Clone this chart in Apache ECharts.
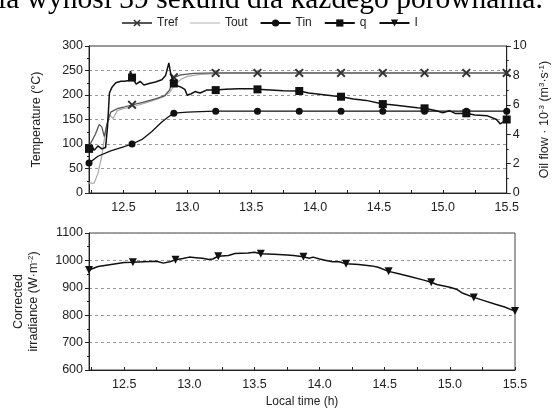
<!DOCTYPE html>
<html><head><meta charset="utf-8">
<script src="https://cdn.jsdelivr.net/npm/echarts@6/dist/echarts.min.js"></script>
<style>html,body{margin:0;padding:0;background:#fff}#c{width:559px;height:412px}</style>
</head><body><div id="c"></div>
<script>
const headerText = 'ia wynosi 39 sekund dla każdego porównania.';
const xTickLabels = [12.5, 13.0, 13.5, 14.0, 14.5, 15.0, 15.5];
const xMinorTicks = [12.25, 12.5, 12.75, 13.0, 13.25, 13.5, 13.75, 14.0, 14.25, 14.5, 14.75, 15.0, 15.25, 15.5];
const markerTimes = [12.23, 12.567, 12.894, 13.222, 13.549, 13.876, 14.203, 14.53, 14.857, 15.184, 15.5];

const trefData = [[12.24,100],[12.28,120],[12.31,140],[12.33,135],[12.35,115],[12.37,140],[12.40,165],[12.45,172],[12.5,175],[12.567,180],[12.65,185],[12.75,192],[12.82,198],[12.86,210],[12.894,236],[12.95,241],[13.05,244],[13.222,245],[13.549,245],[13.876,245],[14.203,245],[14.53,245],[14.857,245],[15.184,245],[15.5,245]];
const toutData = [[12.23,20],[12.27,20],[12.3,40],[12.33,75],[12.35,110],[12.37,140],[12.39,160],[12.42,152],[12.45,168],[12.5,172],[12.6,178],[12.7,186],[12.8,195],[12.86,205],[12.9,220],[12.95,232],[13.0,238],[13.1,242],[13.25,244],[15.5,244]];
const tinData = [[12.23,61],[12.3,75],[12.4,86],[12.5,94],[12.567,100],[12.65,110],[12.72,125],[12.8,145],[12.85,155],[12.894,163],[13.0,165],[13.1,166],[13.222,167],[13.549,167],[13.876,167],[14.203,167],[14.53,167],[14.857,167],[15.184,167],[15.5,167]];
const qData = [[12.23,3.0],[12.25,3.3],[12.27,2.9],[12.3,3.2],[12.33,3.0],[12.36,3.1],[12.375,4.5],[12.39,6.8],[12.41,7.2],[12.44,7.5],[12.48,7.6],[12.51,7.6],[12.54,7.65],[12.555,8.3],[12.567,7.85],[12.58,7.8],[12.6,7.4],[12.63,7.6],[12.66,7.35],[12.7,7.45],[12.75,7.55],[12.8,7.7],[12.83,8.0],[12.855,8.85],[12.87,8.1],[12.894,7.45],[12.92,7.3],[12.95,7.2],[12.98,7.05],[13.0,6.65],[13.03,6.75],[13.06,6.9],[13.1,6.8],[13.15,7.0],[13.222,7.0],[13.3,7.05],[13.4,7.1],[13.5,7.1],[13.549,7.05],[13.65,7.0],[13.75,6.95],[13.876,6.94],[13.95,6.8],[14.05,6.7],[14.15,6.6],[14.203,6.55],[14.3,6.4],[14.4,6.3],[14.53,6.05],[14.6,6.0],[14.7,5.9],[14.8,5.8],[14.857,5.76],[14.95,5.6],[15.0,5.45],[15.05,5.6],[15.1,5.4],[15.184,5.42],[15.25,5.3],[15.35,5.25],[15.42,5.0],[15.45,4.7],[15.5,5.0]];
const irrData = [[12.23,965],[12.3,978],[12.4,985],[12.5,992],[12.567,993],[12.65,995],[12.75,997],[12.8,990],[12.85,995],[12.894,1002],[12.95,1007],[13.0,1012],[13.05,1010],[13.1,1008],[13.15,1003],[13.18,1005],[13.222,1015],[13.3,1018],[13.35,1025],[13.45,1027],[13.5,1030],[13.549,1024],[13.65,1022],[13.75,1020],[13.8,1018],[13.876,1013],[13.92,1008],[13.95,1012],[14.0,1005],[14.05,1000],[14.1,995],[14.15,995],[14.203,988],[14.3,985],[14.4,980],[14.45,975],[14.53,960],[14.6,952],[14.7,940],[14.8,928],[14.857,920],[14.9,912],[15.0,902],[15.05,895],[15.1,880],[15.184,865],[15.25,855],[15.35,840],[15.42,830],[15.5,815]];

const isMarker = t => markerTimes.some(m => Math.abs(m - t) < 0.004);
const withMarkers = d => d.map(p => isMarker(p[0]) ? {value: p} : {value: p, symbol: 'none'});

const crossPath = 'path://M0,1.5 L1.5,0 L5,3.5 L8.5,0 L10,1.5 L6.5,5 L10,8.5 L8.5,10 L5,6.5 L1.5,10 L0,8.5 L3.5,5 Z';
const font = 'Liberation Sans, Arial, sans-serif';
const txt = '#222';

const xAxisBase = (gi, showName) => ({
  type: 'value', gridIndex: gi, min: 12.23, max: 15.5,
  axisLine: {lineStyle: {color: '#222', width: 1}},
  axisTick: {show: true, inside: true, length: 3, customValues: xMinorTicks, lineStyle: {color: '#222'}},
  axisLabel: {customValues: xTickLabels, formatter: v => v.toFixed(1), color: txt, fontFamily: font, fontSize: 12.5, margin: 8},
  splitLine: {show: false},
  name: showName ? 'Local time (h)' : '', nameLocation: 'middle', nameGap: 26,
  nameTextStyle: {color: txt, fontFamily: font, fontSize: 12}
});
const yLabel = {color: txt, fontFamily: font, fontSize: 12.5, margin: 6, formatter: v => String(v)};

const option = {
  animation: false,
  backgroundColor: '#fff',
  graphic: [{
    type: 'text', left: -2, top: -15,
    style: {text: headerText, font: '29.5px "Liberation Serif", "Times New Roman", serif', fill: '#000'}
  }],
  legend: {
    top: 12, left: 116, itemWidth: 30, itemHeight: 9, itemGap: 12,
    textStyle: {color: txt, fontFamily: font, fontSize: 12},
    data: ['Tref', {name: 'Tout', icon: 'path://M0,0 L40,0 L40,1.2 L0,1.2 Z', itemStyle: {color: '#aaa'}}, 'Tin', 'q', 'I']
  },
  grid: [
    {left: 89, right: 44, top: 46, height: 147, show: true, borderColor: '#333', borderWidth: 1},
    {left: 89, right: 44, top: 233, height: 137, show: true, borderColor: '#444', borderWidth: 1}
  ],
  xAxis: [xAxisBase(0, false), xAxisBase(1, true)],
  yAxis: [
    {type: 'value', gridIndex: 0, min: 0, max: 300, interval: 50,
     axisLine: {show: true, lineStyle: {color: '#222'}},
     axisTick: {show: true, length: 4, lineStyle: {color: '#222'}},
     minorTick: {show: true, splitNumber: 2, length: 2, lineStyle: {color: '#222'}},
     axisLabel: yLabel,
     splitLine: {show: true, lineStyle: {type: [3, 3], color: '#999'}},
     name: 'Temperature (°C)', nameLocation: 'middle', nameGap: 46, nameRotate: 90,
     nameTextStyle: {color: txt, fontFamily: font, fontSize: 12.5}},
    {type: 'value', gridIndex: 0, min: 0, max: 10, interval: 2, position: 'right',
     axisLine: {show: true, lineStyle: {color: '#222'}},
     axisTick: {show: true, length: 4, lineStyle: {color: '#222'}},
     minorTick: {show: true, splitNumber: 2, length: 2, lineStyle: {color: '#222'}},
     axisLabel: yLabel,
     splitLine: {show: false},
     name: '{n|Oil flow · 10}{s|-3}{n| (m}{s|3}{n|·s}{s|-1}{n|)}', nameLocation: 'middle', nameGap: 23, nameRotate: 90,
     nameTextStyle: {color: txt, fontFamily: font, fontSize: 12,
       rich: {n: {fontFamily: font, fontSize: 12.5, color: txt}, s: {fontFamily: font, fontSize: 8, color: txt, padding: [0, 0, 6, 0]}}}},
    {type: 'value', gridIndex: 1, min: 600, max: 1100, interval: 100,
     axisLine: {show: true, lineStyle: {color: '#222'}},
     axisTick: {show: true, length: 4, lineStyle: {color: '#222'}},
     minorTick: {show: true, splitNumber: 2, length: 2, lineStyle: {color: '#222'}},
     axisLabel: yLabel,
     splitLine: {show: true, lineStyle: {type: [3, 3], color: '#999'}},
     name: '{n|Corrected}\n{n|irradiance (W·m}{s|-2}{n|)}', nameLocation: 'middle', nameGap: 48, nameRotate: 90,
     nameTextStyle: {color: txt, fontFamily: font, fontSize: 12.5, lineHeight: 15, align: 'center',
       rich: {n: {fontFamily: font, fontSize: 12.5, color: txt, lineHeight: 15}, s: {fontFamily: font, fontSize: 8, color: txt, padding: [0, 0, 6, 0]}}}}
  ],
  series: [
    {name: 'Tref', type: 'line', xAxisIndex: 0, yAxisIndex: 0, data: withMarkers(trefData),
     symbol: crossPath, symbolSize: 9, showSymbol: true,
     lineStyle: {color: '#555', width: 1.3}, itemStyle: {color: '#333'}, z: 3},
    {name: 'Tout', type: 'line', xAxisIndex: 0, yAxisIndex: 0, data: toutData,
     symbol: 'none', showSymbol: false, lineStyle: {color: '#aaa', width: 1.2}, itemStyle: {color: '#aaa'}, z: 2},
    {name: 'Tin', type: 'line', xAxisIndex: 0, yAxisIndex: 0, data: withMarkers(tinData),
     symbol: 'circle', symbolSize: 7, showSymbol: true,
     lineStyle: {color: '#111', width: 1.3}, itemStyle: {color: '#111'}, z: 4},
    {name: 'q', type: 'line', xAxisIndex: 0, yAxisIndex: 1, data: withMarkers(qData),
     symbol: 'rect', symbolSize: 8, showSymbol: true,
     lineStyle: {color: '#111', width: 1.5}, itemStyle: {color: '#111'}, z: 5},
    {name: 'I', type: 'line', xAxisIndex: 1, yAxisIndex: 2, data: withMarkers(irrData),
     symbol: 'triangle', symbolRotate: 180, symbolSize: 8, showSymbol: true,
     lineStyle: {color: '#111', width: 1.5}, itemStyle: {color: '#111'}, z: 5}
  ]
};
echarts.init(document.getElementById('c')).setOption(option);
</script></body></html>
